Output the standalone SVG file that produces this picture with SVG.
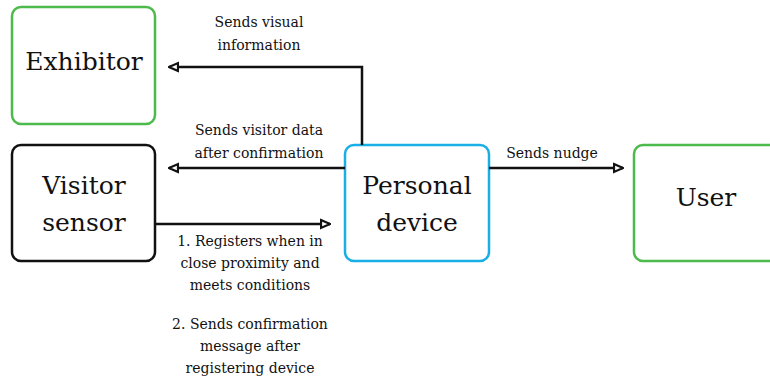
<svg xmlns="http://www.w3.org/2000/svg" width="770" height="380" viewBox="0 0 770 380">
<style>
.box{fill:#fff;stroke-width:2.5}
.g{stroke:#4cbb4c}
.k{stroke:#111}
.b{stroke:#1aaee6}
.nt{font-family:"DejaVu Serif",serif;font-size:25px;fill:#111;text-anchor:middle}
.lt{font-family:"DejaVu Serif",serif;font-size:14px;fill:#111;text-anchor:middle}
.c{fill:none;stroke:#111;stroke-width:2.5}
</style>
<defs>
<marker id="ah" viewBox="0 0 10 10" refX="9" refY="5" markerWidth="4.5" markerHeight="4.5" orient="auto" markerUnits="strokeWidth">
<path d="M1,1.5 L9,5 L1,8.5 Z" fill="#fff" stroke="#111" stroke-width="2"/>
</marker>
</defs>
<g id="exhibitor"><rect class="box g" x="12" y="7" width="143" height="117" rx="9"/><text class="nt" x="84" y="70">Exhibitor</text></g>
<g id="visitor-sensor"><rect class="box k" x="12" y="145" width="143" height="116" rx="9"/><text class="nt" x="84" y="194">Visitor</text><text class="nt" x="84" y="231">sensor</text></g>
<g id="personal-device"><rect class="box b" x="345" y="145" width="144" height="116" rx="9"/><text class="nt" x="417" y="194">Personal</text><text class="nt" x="417" y="231">device</text></g>
<g id="user"><rect class="box g" x="634" y="145" width="145" height="116" rx="9"/><text class="nt" x="706" y="206">User</text></g>
<g id="connectors">
<path class="c" d="M362,145 V67 H169" marker-end="url(#ah)"/>
<path class="c" d="M345,168 H169" marker-end="url(#ah)"/>
<path class="c" d="M155,224 H330" marker-end="url(#ah)"/>
<path class="c" d="M489,168 H623" marker-end="url(#ah)"/>
</g>
<g id="labels">
<text class="lt" x="259" y="27">Sends visual</text>
<text class="lt" x="259" y="50">information</text>
<text class="lt" x="259" y="135">Sends visitor data</text>
<text class="lt" x="259" y="158">after confirmation</text>
<text class="lt" x="552" y="158">Sends nudge</text>
<text class="lt" x="250" y="246">1. Registers when in</text>
<text class="lt" x="250" y="268">close proximity and</text>
<text class="lt" x="250" y="290">meets conditions</text>
<text class="lt" x="250" y="329">2. Sends confirmation</text>
<text class="lt" x="250" y="351">message after</text>
<text class="lt" x="250" y="373">registering device</text>
</g>
</svg>
